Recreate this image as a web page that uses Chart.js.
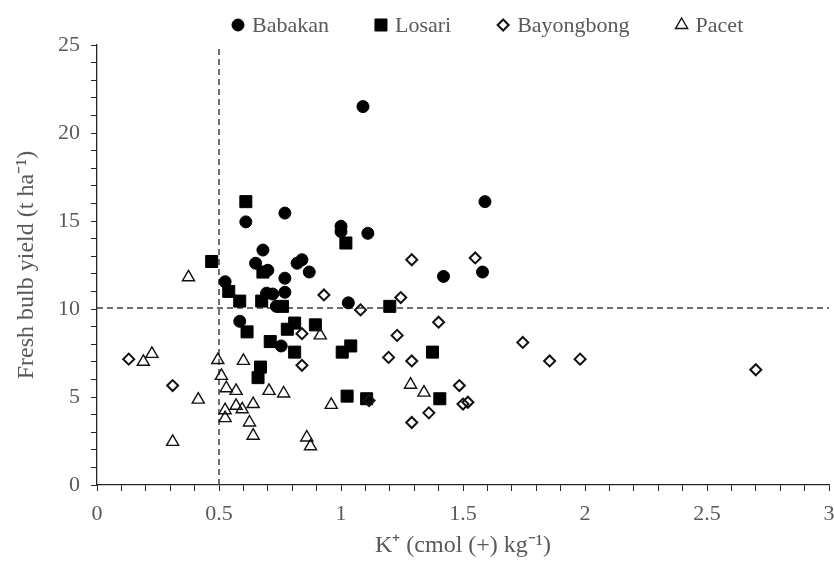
<!DOCTYPE html>
<html>
<head>
<meta charset="utf-8">
<title>Fresh bulb yield vs K+</title>
<script src="https://cdn.jsdelivr.net/npm/chart.js@4"></script>
<style>
  body { margin: 0; background: #fff; }
  #wrap { width: 834px; height: 561px; }
</style>
</head>
<body>
<div id="wrap"><canvas id="yieldChart" width="834" height="561"></canvas></div>
<script>
// exchangeable K+ (cmol(+)/kg) and fresh bulb yield (t/ha) per site
const babakanK = [1.09, 1.59, 0.77, 0.61, 1.0, 1.0, 1.11, 0.68, 0.65, 0.70, 0.82, 0.84, 0.87, 0.77, 0.525, 0.695, 0.72, 0.77, 1.03, 0.735, 0.585, 0.755, 1.42, 1.58];
const babakanYield = [21.5, 16.1, 15.45, 14.95, 14.7, 14.4, 14.3, 13.35, 12.6, 12.2, 12.6, 12.8, 12.1, 11.75, 11.55, 10.9, 10.85, 10.95, 10.35, 10.15, 9.3, 7.9, 11.85, 12.1];

const losariK = [0.61, 1.02, 0.47, 0.68, 0.54, 0.585, 0.675, 0.76, 1.2, 0.81, 0.78, 0.895, 0.615, 0.71, 0.81, 1.005, 1.04, 0.67, 0.66, 1.025, 1.105, 1.375, 1.405];
const losariYield = [16.1, 13.75, 12.7, 12.1, 11.0, 10.45, 10.45, 10.15, 10.15, 9.2, 8.85, 9.1, 8.7, 8.15, 7.55, 7.55, 7.9, 6.7, 6.1, 5.05, 4.9, 7.55, 4.9];

const bayongbongK = [0.13, 0.31, 0.84, 0.84, 0.93, 1.08, 1.115, 1.195, 1.245, 1.29, 1.55, 1.4, 1.23, 1.29, 1.745, 1.855, 1.98, 1.485, 1.50, 1.52, 1.36, 1.29, 2.70];
const bayongbongYield = [7.15, 5.65, 8.6, 6.8, 10.8, 9.95, 4.8, 7.25, 10.65, 12.8, 12.9, 9.25, 8.5, 7.05, 8.1, 7.05, 7.15, 5.65, 4.6, 4.7, 4.1, 3.55, 6.55];

const pacetK = [0.375, 0.225, 0.19, 0.495, 0.60, 0.51, 0.53, 0.57, 0.705, 0.765, 0.415, 0.915, 0.64, 0.57, 0.595, 0.525, 0.525, 0.625, 0.64, 0.31, 0.86, 0.875, 0.96, 1.285, 1.34];
const pacetYield = [11.8, 7.45, 7.0, 7.1, 7.05, 6.2, 5.5, 5.35, 5.35, 5.2, 4.85, 8.5, 4.6, 4.5, 4.3, 4.25, 3.8, 3.55, 2.8, 2.45, 2.7, 2.2, 4.55, 5.7, 5.25];

// critical levels shown as dashed guides
const kCritical = 0.5;
const yieldCritical = 10.05;

const xRange = [0, 3];
const yRange = [0, 25];

const toPoints = (xs, ys) => xs.map((x, i) => ({ x, y: ys[i] }));

const textGray = '#595959';
const axisColor = '#262626';
const serif = "'Liberation Serif', 'Times New Roman', serif";

// simple legend row drawn above the plot
const siteLegend = {
  id: 'siteLegend',
  afterDraw(chart, args, opts) {
    const ctx = chart.ctx;
    let x = opts.left;
    ctx.save();
    ctx.font = opts.font;
    ctx.textBaseline = 'middle';
    chart.data.datasets.forEach(ds => {
      if (!ds.site) return;
      ctx.fillStyle = ds.backgroundColor;
      ctx.strokeStyle = ds.borderColor;
      ctx.lineWidth = ds.borderWidth;
      Chart.helpers.drawPoint(ctx, {
        pointStyle: ds.pointStyle,
        radius: ds.pointRadius,
        borderWidth: ds.borderWidth
      }, x, opts.y);
      ctx.fillStyle = opts.color;
      ctx.fillText(ds.label, x + opts.markGap, opts.y + 1);
      x += opts.markGap + ctx.measureText(ds.label).width + opts.spacing;
    });
    ctx.restore();
  }
};

const guideStyle = {
  type: 'line',
  borderColor: '#404040',
  borderWidth: 1.5,
  borderDash: [6, 4],
  pointRadius: 0,
  fill: false,
  order: 10
};

new Chart(document.getElementById('yieldChart'), {
  type: 'scatter',
  data: {
    datasets: [
      {
        label: 'Babakan', site: true, order: 4,
        data: toPoints(babakanK, babakanYield),
        pointStyle: 'circle', pointRadius: 6,
        backgroundColor: '#000', borderColor: '#000', borderWidth: 1
      },
      {
        label: 'Losari', site: true, order: 3,
        data: toPoints(losariK, losariYield),
        pointStyle: 'rect', pointRadius: 8.5,
        backgroundColor: '#000', borderColor: '#000', borderWidth: 1
      },
      {
        label: 'Bayongbong', site: true, order: 2,
        data: toPoints(bayongbongK, bayongbongYield),
        pointStyle: 'rectRot', pointRadius: 5.5,
        backgroundColor: 'rgba(0,0,0,0)', borderColor: '#111', borderWidth: 2
      },
      {
        label: 'Pacet', site: true, order: 1,
        data: toPoints(pacetK, pacetYield),
        pointStyle: 'triangle', pointRadius: 7,
        backgroundColor: 'rgba(0,0,0,0)', borderColor: '#111', borderWidth: 1.4
      },
      Object.assign({ data: [{ x: kCritical, y: yRange[0] }, { x: kCritical, y: yRange[1] }] }, guideStyle),
      Object.assign({ data: [{ x: xRange[0], y: yieldCritical }, { x: xRange[1], y: yieldCritical }] }, guideStyle)
    ]
  },
  options: {
    responsive: false,
    animation: false,
    layout: { autoPadding: false, padding: { top: 45, right: 5, left: 0, bottom: 0 } },
    plugins: {
      legend: { display: false },
      tooltip: { enabled: false },
      siteLegend: {
        left: 238, y: 25, markGap: 14, spacing: 52,
        font: `22px ${serif}`, color: textGray
      }
    },
    scales: {
      x: {
        type: 'linear',
        min: xRange[0], max: xRange[1],
        afterFit: s => { s.height = 76; s.paddingRight = 0; s.paddingLeft = 0; },
        border: { color: axisColor, width: 1.3 },
        grid: { drawOnChartArea: false, drawTicks: true, tickLength: 6, color: axisColor, lineWidth: 1 },
        ticks: {
          stepSize: 0.1, autoSkip: false, maxRotation: 0, padding: 10,
          color: textGray, font: { family: serif, size: 22 },
          callback: v => {
            const half = v * 2;
            return Math.abs(half - Math.round(half)) < 1e-6 ? String(Math.round(v * 10) / 10) : '';
          }
        },
        title: {
          display: true, text: 'K⁺ (cmol (+) kg⁻¹)', color: textGray,
          font: { family: serif, size: 24 }, padding: { top: 0, bottom: 1 }
        }
      },
      y: {
        type: 'linear',
        min: yRange[0], max: yRange[1],
        afterFit: s => { s.width = 97; },
        border: { color: axisColor, width: 1.3 },
        grid: { drawOnChartArea: false, drawTicks: true, tickLength: 6, color: axisColor, lineWidth: 1 },
        ticks: {
          stepSize: 1, autoSkip: false, padding: 11,
          color: textGray, font: { family: serif, size: 22 },
          callback: v => (v % 5 === 0 ? String(v) : '')
        },
        title: {
          display: true, text: 'Fresh bulb yield (t ha⁻¹)', color: textGray,
          font: { family: serif, size: 24 }, padding: { top: 12, bottom: 0 }
        }
      }
    }
  },
  plugins: [siteLegend]
});
</script>
</body>
</html>
